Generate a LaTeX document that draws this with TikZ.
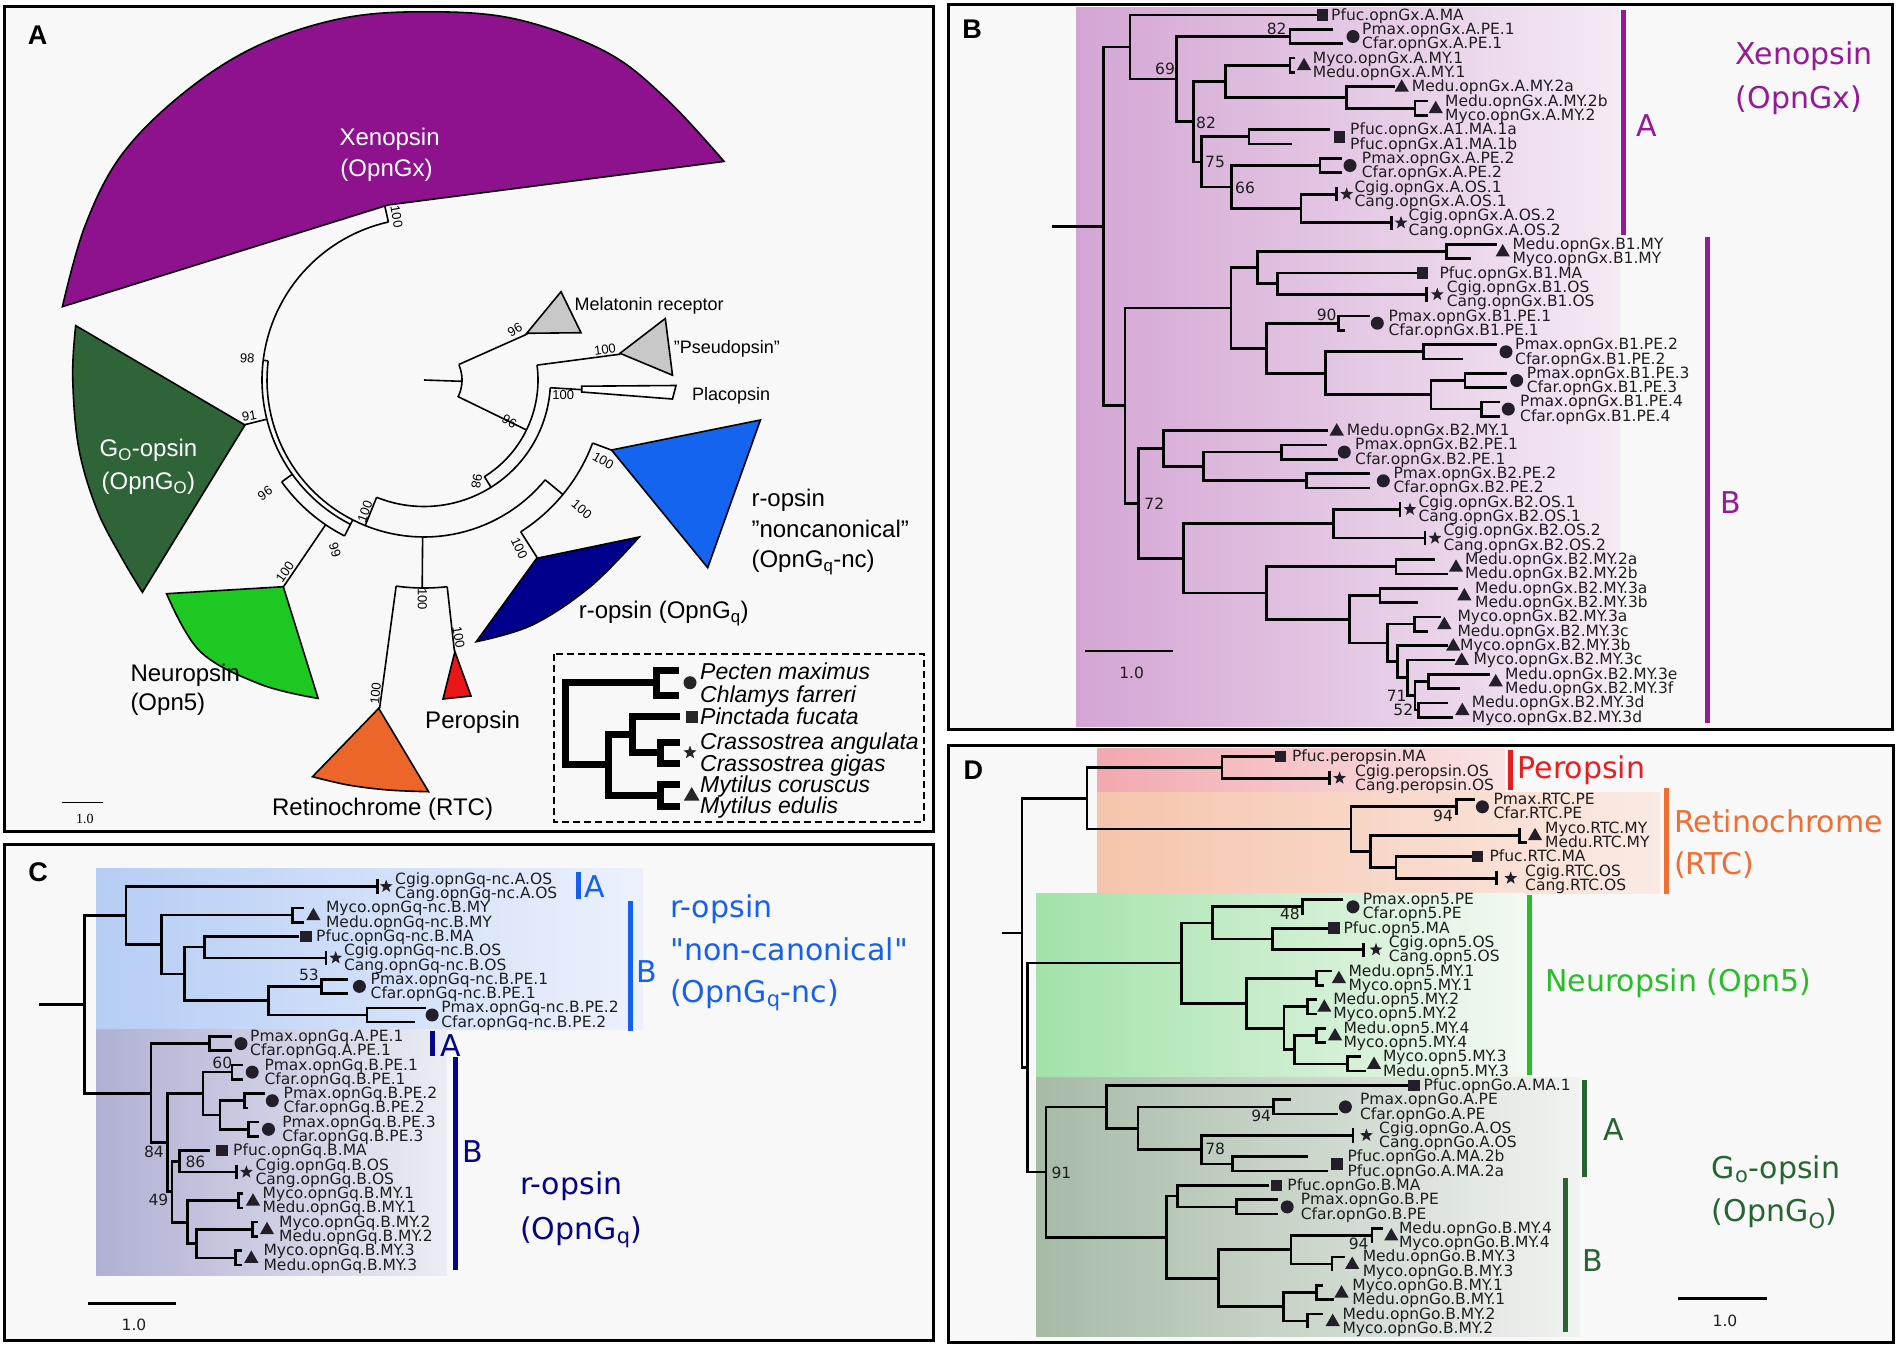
\documentclass[tikz,border=0pt]{standalone}
\usepackage{fontspec}
\setmainfont{Liberation Sans}
\newfontfamily\dvs{DejaVu Sans}
\newfontfamily\dvl[Scale=1.55]{DejaVu Sans}
\newfontfamily\lser{Liberation Serif}
\usetikzlibrary{shapes.geometric}
\definecolor{pbg}{RGB}{248,248,248}
\definecolor{mkc}{RGB}{35,30,42}
\definecolor{lbc}{RGB}{30,30,30}
\definecolor{xeno}{RGB}{142,17,142}
\definecolor{xtxt}{RGB}{150,25,150}
\definecolor{goc}{RGB}{46,100,55}
\definecolor{neuc}{RGB}{30,200,35}
\definecolor{rtcc}{RGB}{236,102,42}
\definecolor{perc}{RGB}{232,22,22}
\definecolor{navc}{RGB}{0,0,140}
\definecolor{bluc}{RGB}{20,100,240}
\definecolor{grc}{RGB}{200,200,200}
\definecolor{gtxt}{RGB}{40,190,40}
\definecolor{dgtxt}{RGB}{40,100,50}
\definecolor{otxt}{RGB}{240,110,50}
\definecolor{rtxt}{RGB}{230,30,30}
\definecolor{btxt}{RGB}{21,96,240}
\definecolor{ntxt}{RGB}{5,5,140}
\definecolor{bL}{RGB}{212,165,212}\definecolor{bR}{RGB}{244,234,244}
\definecolor{cAL}{RGB}{182,205,245}\definecolor{cAR}{RGB}{236,241,252}
\definecolor{cBL}{RGB}{176,176,212}\definecolor{cBR}{RGB}{236,236,244}
\definecolor{pL}{RGB}{242,168,175}\definecolor{pR}{RGB}{250,228,228}
\definecolor{oL}{RGB}{246,196,172}\definecolor{oR}{RGB}{250,234,228}
\definecolor{nL}{RGB}{162,226,168}\definecolor{nR}{RGB}{242,249,242}
\definecolor{gL}{RGB}{166,186,166}\definecolor{gR}{RGB}{240,243,240}
\newcounter{nn}
\newcommand\Lf[3]{\stepcounter{nn}\node[leaf] (l\arabic{nn}) at (#1,#2) {#3};}
\newcommand\Mk[3]{\stepcounter{nn}\node[#1] (m\arabic{nn}) at (#2,#3) {};}
\newcommand\Br[5]{\draw[tl] (#3,#2) -- (#1,#2) -- (#1,#4) -- (#5,#4);}
\newcommand\Vb[3]{\draw[tl] (#1,#2) -- (#1,#3);}
\newcommand\Bs[3]{\stepcounter{nn}\node[bsl] (b\arabic{nn}) at (#1,#2) {#3};}
\newcommand\PolA[3]{\draw[pl] plot[domain=#2:#3, samples=60, variable=\t] ({424+#1*cos(\t)},{380+#1*sin(\t)});}
\newcommand\PolR[3]{\draw[pl] ({424+#2*cos(#1)},{380+#2*sin(#1)}) -- ({424+#3*cos(#1)},{380+#3*sin(#1)});}
\tikzset{
 tl/.style={line width=2.7pt, draw=black},
 pl/.style={line width=1.6pt, draw=black},
 leaf/.style={anchor=west, inner sep=0pt, font=\dvl, text=lbc, text height=10pt, text depth=0pt},
 bsl/.style={inner sep=0pt, font=\dvl, text=lbc},
 bsa/.style={inner sep=0pt, font=\fontsize{13}{13}\selectfont},
 alab/.style={inner sep=0pt, font=\fontsize{24}{26}\selectfont, text height=17pt, text depth=0pt},
 slab/.style={inner sep=0pt, anchor=west, font=\fontsize{18}{20}\selectfont, text height=13pt, text depth=0pt},
 cl/.style={inner sep=0pt, anchor=west, font=\dvs\fontsize{30}{32}\selectfont, text height=22pt, text depth=0pt},
 plab/.style={inner sep=0pt, font=\bfseries\fontsize{27}{27}\selectfont},
 msq/.style={rectangle, fill=mkc, minimum size=11.5pt, inner sep=0pt},
 mci/.style={circle, fill=mkc, minimum size=13pt, inner sep=0pt},
 mtr/.style={regular polygon, regular polygon sides=3, fill=mkc, minimum size=16.5pt, inner sep=0pt},
 mst/.style={star, star points=5, star point ratio=2.4, fill=mkc, minimum size=13.5pt, inner sep=0pt},
 it/.style={line width=7pt},
 cbar/.style={line width=5pt},
 ilab/.style={inner sep=0pt, anchor=west, font=\itshape\fontsize{23}{23}\selectfont, text height=16pt, text depth=0pt}
}
\begin{document}
\begin{tikzpicture}[x=1pt, y=-1pt, line join=miter]
\useasboundingbox (0,0) rectangle (1898,1347);
\fill[white] (0,0) rectangle (1898,1347);
% frames
\draw[line width=3pt, fill=pbg] (4,6) rectangle (933,831);
\draw[line width=3pt, fill=pbg] (948,4) rectangle (1892,729);
\draw[line width=3pt, fill=pbg] (4,844) rectangle (933,1340);
\draw[line width=3pt, fill=pbg] (948,745) rectangle (1893,1342);
% shaded regions
\shade[left color=bL, right color=bR] (1076,7) rectangle (1620,726);
\shade[left color=cAL, right color=cAR] (96,868.3) rectangle (643,1029.5);
\shade[left color=cBL, right color=cBR] (96,1029.5) rectangle (447,1275);
\shade[left color=pL, right color=pR] (1097.4,748.3) rectangle (1505,792.7);
\shade[left color=oL, right color=oR] (1097.4,792.7) rectangle (1660,893.3);
\shade[left color=nL, right color=nR] (1036.1,893.3) rectangle (1525,1077.7);
\shade[left color=gL, right color=gR] (1036.1,1077.7) rectangle (1580,1336.7);
% panel letters
\node[plab] (pA) at (37.6,35.4) {A};
\node[plab] (pB) at (972,29) {B};
\node[plab] (pC) at (38,871.7) {C};
\node[plab] (pD) at (973.4,770) {D};

% ================= PANEL A =================
\PolR{2}{0}{38}
\PolA{38}{-23}{27}
\PolR{-24}{38}{113}
\PolR{26}{38}{114}
\PolA{114}{-7.5}{58}
\PolR{-7.5}{114}{198}
\PolR{58}{114}{126.5}
\PolA{126.5}{3.5}{112}
\PolR{3.5}{126.5}{158}
\PolR{112}{126.5}{157}
\PolA{157}{39.5}{187}
\PolR{39.5}{157}{180}
\PolA{180}{20.5}{57.5}
\PolR{20.5}{180}{200}
\PolR{57.5}{180}{211}
\PolR{90.5}{157}{208}
\PolA{208}{83.6}{97.7}
\PolR{97.7}{208}{331}
\PolR{83.6}{208}{273}
\PolR{187}{157}{162}
\PolA{162}{117}{257.3}
\PolR{257.3}{162}{178}
\PolR{166}{162}{185}
\PolR{144.4}{162}{175}
\PolA{175}{117}{144.4}
\PolR{124.2}{175}{250}
\PolR{117}{157}{175}
% clade shapes
\filldraw[pl, fill=xeno] (388,205) -- plot[smooth, tension=0.6] coordinates {(62.4,306.7) (84.8,226.5) (121,155.7) (181.8,94.4) (254.5,47.2) (339.3,18.9) (424,11.8) (515,18.9) (606,51.9) (666.5,99.1) (724,161.4)} -- cycle;
\filldraw[pl, fill=goc] (245,425) -- plot[smooth, tension=0.6] coordinates {(75.7,325.6) (72.7,377.5) (78.8,448.3) (97,509.7) (121.2,556.9) (142.4,592.3)} -- cycle;
\filldraw[pl, fill=neuc] (283.3,586.7) -- plot[smooth, tension=0.6] coordinates {(166.6,593.7) (200,651.3) (260.5,684.3) (318.1,698.4)} -- cycle;
\filldraw[pl, fill=rtcc] (378.7,708.3) -- plot[smooth, tension=0.6] coordinates {(312.5,776.7) (348.2,785) (388.4,790) (428.6,791.7)} -- cycle;
\filldraw[pl, fill=perc] (454.9,651.7) -- (443,699) -- (471,696) -- cycle;
\filldraw[pl, fill=navc] (536.7,558.3) -- plot[smooth, tension=0.6] coordinates {(639.2,537) (590.2,586.7) (532.2,625) (476.2,641.7)} -- cycle;
\filldraw[pl, fill=bluc] (611.5,450) -- (760.4,420) -- (707.7,567.7) -- cycle;
\filldraw[pl, fill=grc] (526.7,333.3) -- (561,291.7) -- (581,332.7) -- cycle;
\filldraw[pl, fill=grc] (620,353.3) -- (665.3,318.5) -- (672.5,375.2) -- cycle;
\filldraw[pl, fill=white] (581.7,386.2) -- (676,385.5) -- (672.5,399) -- (581.7,392) -- cycle;
% labels A
\node[alab, text=white] (xn1) at (389.6,137) {Xenopsin};
\node[alab, text=white] (xn2) at (386.5,167.5) {(OpnGx)};
\node[alab, text=white] (go1) at (148.4,448.3) {G\textsubscript{O}-opsin};
\node[alab, text=white] (go2) at (148.4,481.4) {(OpnG\textsubscript{O})};
\node[alab, anchor=west] (ne1) at (130.3,672.5) {Neuropsin};
\node[alab, anchor=west] (ne2) at (130.3,702.2) {(Opn5)};
\node[alab] (pe1) at (472.6,719.7) {Peropsin};
\node[alab] (rt1) at (382.6,806.7) {Retinochrome (RTC)};
\node[alab, anchor=west] (rn1) at (751.3,497.9) {r-opsin};
\node[alab, anchor=west] (rn2) at (751.3,528.5) {"noncanonical"};
\node[alab, anchor=west] (rn3) at (751.3,559.2) {(OpnG\textsubscript{q}-nc)};
\node[alab, anchor=west] (rq1) at (578.6,610.2) {r-opsin (OpnG\textsubscript{q})};
\node[slab] (ml) at (574.4,304.4) {Melatonin receptor};
\node[slab] (ps) at (673.7,346.9) {"Pseudopsin"};
\node[slab] (plc) at (691.9,394) {Placopsin};
% bootstrap A
\node[bsa, rotate=-80] (a1) at (396.7,216.7) {100};
\node[bsa, rotate=-5] (a2) at (247.3,358.3) {98};
\node[bsa, rotate=10] (a3) at (249.3,416) {91};
\node[bsa, rotate=35] (a4) at (265,493.3) {96};
\node[bsa, rotate=55] (a5) at (285,571.7) {100};
\node[bsa, rotate=-72] (a6) at (335,550) {99};
\node[bsa, rotate=70] (a7) at (365,511.7) {100};
\node[bsa, rotate=-90] (a8) at (422.3,599.3) {100};
\node[bsa, rotate=85] (a9) at (375.6,693.7) {100};
\node[bsa, rotate=-80] (a10) at (458.6,637) {100};
\node[bsa, rotate=-100] (a11) at (476.7,481.7) {98};
\node[bsa, rotate=-30] (a12) at (509.3,421.7) {96};
\node[bsa, rotate=30] (a13) at (515,330) {96};
\node[bsa, rotate=8] (a14) at (605,349.3) {100};
\node[bsa] (a15) at (563.3,395) {100};
\node[bsa, rotate=-30] (a16) at (603.3,460.7) {100};
\node[bsa, rotate=-40] (a17) at (581.7,509.3) {100};
\node[bsa, rotate=-65] (a18) at (519.3,548.3) {100};
% scale A
\draw[line width=1.6pt] (61.6,802.3) -- (102.7,802.3);
\node[inner sep=0pt, font=\lser\fontsize{14}{14}\selectfont] (sA) at (84.8,819) {1.0};
% inset
\draw[line width=2.2pt, dash pattern=on 7pt off 4pt] (553.7,654) rectangle (924,822);
\draw[it] (679.4,670) -- (656.6,670) -- (656.6,695) -- (679.4,695);
\draw[it] (656.6,682.7) -- (565.3,682.7) -- (565.3,764.5) -- (608.3,764.5);
\draw[it] (632,734) -- (608.3,734) -- (608.3,795) -- (660,795);
\draw[it] (680,716) -- (632,716) -- (632,752.5) -- (660,752.5);
\draw[it] (680,742) -- (660,742) -- (660,763) -- (680,763);
\draw[it] (680,784.5) -- (660,784.5) -- (660,806) -- (680,806);
\node[circle, fill=black!85, minimum size=13pt, inner sep=0pt] (im1) at (690,682.7) {};
\node[rectangle, fill=black!85, minimum size=12pt, inner sep=0pt] (im2) at (691.8,716.7) {};
\node[star, star points=5, star point ratio=2.4, fill=black!85, minimum size=14pt, inner sep=0pt] (im3) at (690,752.5) {};
\node[regular polygon, regular polygon sides=3, fill=black!85, minimum size=18pt, inner sep=0pt] (im4) at (691.7,796) {};
\node[ilab] (s1) at (700,671.7) {Pecten maximus};
\node[ilab] (s2) at (700,694) {Chlamys farreri};
\node[ilab] (s3) at (700,716.7) {Pinctada fucata};
\node[ilab] (s4) at (700,741.9) {Crassostrea angulata};
\node[ilab] (s5) at (700,763.2) {Crassostrea gigas};
\node[ilab] (s6) at (700,784.5) {Mytilus coruscus};
\node[ilab] (s7) at (700,805.8) {Mytilus edulis};

% ================= PANEL B =================
\Br{1290}{29.33}{1333}{43.66}{1343}
\Mk{mci}{1353}{36.5}
\Br{1290}{58}{1295}{72.3}{1295}
\Mk{mtr}{1304}{66}
\Br{1415}{101}{1428.3}{115.3}{1428.3}
\Mk{mtr}{1435.7}{109}
\Br{1346.7}{86.65}{1395}{108.2}{1415}
\Mk{mtr}{1401.7}{87.5}
\Br{1225.7}{65.2}{1290}{97.4}{1346.7}
\Br{1249}{129.6}{1330}{144}{1291.7}
\Mk{msq}{1339.3}{136.8}
\Br{1320}{158.3}{1341.7}{172.6}{1341.7}
\Mk{mci}{1350}{165.5}
\Br{1301}{194.2}{1336.7}{222.8}{1391.7}
\Vb{1336.7}{187}{201.3}
\Vb{1391.7}{215.6}{230}
\Mk{mst}{1346.7}{194.2}
\Mk{mst}{1401}{222.8}
\Br{1231.7}{165.5}{1320}{208.5}{1301}
\Br{1201.7}{136.8}{1249}{187}{1231.7}
\Br{1193.3}{81.3}{1225.7}{161.9}{1201.7}
\Br{1176.7}{36.5}{1290}{121.6}{1193.3}
\Br{1130}{15}{1316.7}{79}{1176.7}
\Mk{msq}{1322.3}{15}
\Br{1446.7}{244.3}{1496.7}{258.6}{1471}
\Mk{mtr}{1502.7}{252.3}
\Br{1277.3}{273}{1416.7}{294.5}{1426.7}
\Vb{1426.7}{287.3}{301.6}
\Mk{msq}{1422.5}{273}
\Mk{mst}{1437.3}{294.5}
\Br{1257.7}{251.5}{1446.7}{283.7}{1277.3}
\Br{1338.3}{316}{1370}{330.3}{1345}
\Mk{mci}{1377.3}{323.2}
\Br{1423.3}{344.6}{1496.7}{359}{1463.3}
\Mk{mci}{1506}{351.8}
\Br{1465}{373.3}{1506.7}{387.6}{1506.7}
\Mk{mci}{1516.7}{380.5}
\Br{1481.7}{401.9}{1500}{416.3}{1500}
\Mk{mci}{1508.3}{409.1}
\Br{1431}{380.5}{1465}{409.1}{1481.7}
\Br{1325.7}{351.8}{1423.3}{394.8}{1431}
\Br{1266.7}{323.2}{1338.3}{373.3}{1325.7}
\Br{1231}{267.6}{1257.7}{348.2}{1266.7}
\Br{1281.7}{444.9}{1326.7}{459.3}{1338.3}
\Mk{mci}{1344.3}{452.1}
\Br{1306.7}{473.6}{1370}{487.9}{1370}
\Mk{mci}{1383.3}{480.8}
\Br{1203.3}{452.1}{1281.7}{480.8}{1306.7}
\Br{1163.3}{430.6}{1328.3}{466.4}{1203.3}
\Mk{mtr}{1336.7}{431.4}
\Br{1333.3}{509.4}{1400}{538.1}{1425}
\Vb{1400}{502.3}{516.6}
\Vb{1425}{530.9}{545.3}
\Mk{mst}{1410}{509.4}
\Mk{mst}{1435}{538.1}
\Br{1396}{559.6}{1435}{573.9}{1447.7}
\Mk{mtr}{1456}{567.6}
\Br{1380}{588.3}{1458.3}{602.6}{1418.3}
\Mk{mtr}{1464.3}{596.2}
\Br{1414.3}{616.9}{1441}{631.3}{1427.7}
\Mk{mtr}{1444.3}{624.9}
\Br{1428.3}{674.3}{1490}{688.6}{1460}
\Mk{mtr}{1495.7}{682.2}
\Br{1418.3}{702.9}{1447.7}{717.3}{1453.3}
\Mk{mtr}{1462.3}{710.9}
\Br{1415}{681.4}{1428.3}{710.1}{1418.3}
\Br{1407.7}{659.9}{1455}{695.8}{1415}
\Mk{mtr}{1461.7}{660.7}
\Br{1397.7}{645.6}{1448.3}{677.8}{1407.7}
\Mk{mtr}{1453.3}{646.4}
\Br{1387.7}{624.1}{1414.3}{661.7}{1397.7}
\Br{1349.3}{595.4}{1380}{642.9}{1387.7}
\Br{1266.7}{566.8}{1396}{619.2}{1349.3}
\Br{1183.3}{523.8}{1333.3}{593}{1266.7}
\Br{1138.3}{448.5}{1163.3}{558.4}{1183.3}
\Br{1125}{307.9}{1231}{503.5}{1138.3}
\Br{1103.3}{47}{1130}{405.7}{1125}
\draw[tl] (1052,226.4) -- (1103.3,226.4);
\Lf{1331}{15}{Pfuc.opnGx.A.MA}
\Lf{1362}{29.33}{Pmax.opnGx.A.PE.1}
\Lf{1362}{43.66}{Cfar.opnGx.A.PE.1}
\Lf{1312.7}{58}{Myco.opnGx.A.MY.1}
\Lf{1312.7}{72.3}{Medu.opnGx.A.MY.1}
\Lf{1411.7}{86.65}{Medu.opnGx.A.MY.2a}
\Lf{1445}{101}{Medu.opnGx.A.MY.2b}
\Lf{1445}{115.3}{Myco.opnGx.A.MY.2}
\Lf{1350}{129.6}{Pfuc.opnGx.A1.MA.1a}
\Lf{1350}{144}{Pfuc.opnGx.A1.MA.1b}
\Lf{1361.7}{158.3}{Pmax.opnGx.A.PE.2}
\Lf{1361.7}{172.6}{Cfar.opnGx.A.PE.2}
\Lf{1354.3}{187}{Cgig.opnGx.A.OS.1}
\Lf{1354.3}{201.3}{Cang.opnGx.A.OS.1}
\Lf{1408.3}{215.6}{Cgig.opnGx.A.OS.2}
\Lf{1408.3}{230}{Cang.opnGx.A.OS.2}
\Lf{1512.3}{244.3}{Medu.opnGx.B1.MY}
\Lf{1512.3}{258.6}{Myco.opnGx.B1.MY}
\Lf{1439.3}{273}{Pfuc.opnGx.B1.MA}
\Lf{1446.7}{287.3}{Cgig.opnGx.B1.OS}
\Lf{1446.7}{301.6}{Cang.opnGx.B1.OS}
\Lf{1388.3}{316}{Pmax.opnGx.B1.PE.1}
\Lf{1388.3}{330.3}{Cfar.opnGx.B1.PE.1}
\Lf{1515}{344.6}{Pmax.opnGx.B1.PE.2}
\Lf{1515}{359}{Cfar.opnGx.B1.PE.2}
\Lf{1526.7}{373.3}{Pmax.opnGx.B1.PE.3}
\Lf{1526.7}{387.6}{Cfar.opnGx.B1.PE.3}
\Lf{1520}{401.9}{Pmax.opnGx.B1.PE.4}
\Lf{1520}{416.3}{Cfar.opnGx.B1.PE.4}
\Lf{1346.7}{430.6}{Medu.opnGx.B2.MY.1}
\Lf{1355}{444.9}{Pmax.opnGx.B2.PE.1}
\Lf{1355}{459.3}{Cfar.opnGx.B2.PE.1}
\Lf{1393.3}{473.6}{Pmax.opnGx.B2.PE.2}
\Lf{1393.3}{487.9}{Cfar.opnGx.B2.PE.2}
\Lf{1418.3}{502.3}{Cgig.opnGx.B2.OS.1}
\Lf{1418.3}{516.6}{Cang.opnGx.B2.OS.1}
\Lf{1443.3}{530.9}{Cgig.opnGx.B2.OS.2}
\Lf{1443.3}{545.3}{Cang.opnGx.B2.OS.2}
\Lf{1465}{559.6}{Medu.opnGx.B2.MY.2a}
\Lf{1465}{573.9}{Medu.opnGx.B2.MY.2b}
\Lf{1475}{588.3}{Medu.opnGx.B2.MY.3a}
\Lf{1475}{602.6}{Medu.opnGx.B2.MY.3b}
\Lf{1457.3}{616.9}{Myco.opnGx.B2.MY.3a}
\Lf{1457.3}{631.3}{Medu.opnGx.B2.MY.3c}
\Lf{1460}{645.6}{Myco.opnGx.B2.MY.3b}
\Lf{1473.3}{659.9}{Myco.opnGx.B2.MY.3c}
\Lf{1505}{674.3}{Medu.opnGx.B2.MY.3e}
\Lf{1505}{688.6}{Medu.opnGx.B2.MY.3f}
\Lf{1471.7}{702.9}{Medu.opnGx.B2.MY.3d}
\Lf{1471.7}{717.3}{Myco.opnGx.B2.MY.3d}
\Bs{1276.7}{29.3}{82}
\Bs{1165}{69}{69}
\Bs{1206}{123.3}{82}
\Bs{1215}{161.7}{75}
\Bs{1245}{188.3}{66}
\Bs{1326.7}{315}{90}
\Bs{1154.3}{503.3}{72}
\Bs{1396.7}{696}{71}
\Bs{1403.3}{710}{52}
\draw[tl] (1085,651) -- (1173.3,651);
\Bs{1131.7}{673.3}{1.0}
\draw[cbar, xtxt] (1623.3,10.2) -- (1623.3,235);
\draw[cbar, xtxt] (1707.7,237.4) -- (1707.7,722.5);
\node[cl, text=xtxt] (bA) at (1636,125.7) {A};
\node[cl, text=xtxt] (bB) at (1720,502.8) {B};
\node[cl, text=xtxt, anchor=center] (bX1) at (1804,53.5) {Xenopsin};
\node[cl, text=xtxt, anchor=center] (bX2) at (1799,97.8) {(OpnGx)};

% ================= PANEL C =================
\Br{125.9}{886.4}{377.2}{944.5}{161.6}
\Vb{377.2}{879.3}{893.6}
\Mk{mst}{386.2}{886.4}
\Br{292.4}{907.9}{303.6}{922.2}{303.6}
\Mk{mtr}{313.4}{916}
\Br{204.5}{936.4}{299.1}{957.9}{325.9}
\Mk{msq}{305.8}{936.4}
\Vb{325.9}{950.7}{965}
\Mk{mst}{335.7}{957.9}
\Br{321.4}{979.3}{348.2}{993.6}{348.2}
\Mk{mci}{359.4}{986.4}
\Br{367}{1007.9}{426.3}{1022.1}{415.2}
\Mk{mci}{432.1}{1015}
\Br{268.8}{986.4}{321.4}{1015}{367}
\Br{184.4}{947.1}{204.5}{1000.7}{268.8}
\Br{161.6}{915}{292.4}{973.9}{184.4}
\Br{209.8}{1036.4}{232.1}{1050.7}{232.1}
\Mk{mci}{241}{1043.6}
\Br{232.1}{1065}{243.3}{1079.3}{243.3}
\Mk{mci}{252.2}{1072.1}
\Br{244.6}{1093.6}{265}{1107.9}{248}
\Mk{mci}{272.3}{1100.7}
\Br{248.7}{1122.1}{258.9}{1136.4}{258.9}
\Mk{mci}{268.5}{1129.3}
\Br{220.1}{1100.7}{244.6}{1129.3}{248.7}
\Br{203.1}{1072.1}{232.1}{1115}{220.1}
\Br{179.5}{1150.7}{209.8}{1172.1}{236.6}
\Mk{msq}{221.9}{1150.7}
\Vb{236.6}{1165}{1179.3}
\Mk{mst}{246.4}{1172.1}
\Br{238.8}{1193.6}{243}{1207.9}{243}
\Mk{mtr}{253}{1201.5}
\Br{252.2}{1222.1}{258}{1236.4}{258}
\Mk{mtr}{267}{1230.1}
\Br{235.7}{1250.7}{242}{1265}{242}
\Mk{mtr}{251.3}{1258.7}
\Br{196.4}{1229.3}{252.2}{1257.9}{235.7}
\Br{187.5}{1200.7}{238.8}{1243.6}{196.4}
\Br{171.9}{1161.4}{179.5}{1222.2}{187.5}
\Br{167.4}{1093.6}{203.1}{1191.8}{171.9}
\Br{150.9}{1043.6}{209.8}{1142.7}{167.4}
\Br{84.8}{915.4}{125.9}{1093.2}{150.9}
\draw[tl] (39.3,1004.3) -- (84.8,1004.3);
\Lf{395}{879.3}{Cgig.opnGq-nc.A.OS}
\Lf{395}{893.6}{Cang.opnGq-nc.A.OS}
\Lf{325.9}{907.9}{Myco.opnGq-nc.B.MY}
\Lf{325.9}{922.2}{Medu.opnGq-nc.B.MY}
\Lf{316}{936.4}{Pfuc.opnGq-nc.B.MA}
\Lf{343.8}{950.7}{Cgig.opnGq-nc.B.OS}
\Lf{343.8}{965}{Cang.opnGq-nc.B.OS}
\Lf{370.5}{979.3}{Pmax.opnGq-nc.B.PE.1}
\Lf{370.5}{993.6}{Cfar.opnGq-nc.B.PE.1}
\Lf{441.1}{1007.9}{Pmax.opnGq-nc.B.PE.2}
\Lf{441.1}{1022.1}{Cfar.opnGq-nc.B.PE.2}
\Lf{250}{1036.4}{Pmax.opnGq.A.PE.1}
\Lf{250}{1050.7}{Cfar.opnGq.A.PE.1}
\Lf{264.3}{1065}{Pmax.opnGq.B.PE.1}
\Lf{264.3}{1079.3}{Cfar.opnGq.B.PE.1}
\Lf{283.5}{1093.6}{Pmax.opnGq.B.PE.2}
\Lf{283.5}{1107.9}{Cfar.opnGq.B.PE.2}
\Lf{282.1}{1122.1}{Pmax.opnGq.B.PE.3}
\Lf{282.1}{1136.4}{Cfar.opnGq.B.PE.3}
\Lf{233}{1150.7}{Pfuc.opnGq.B.MA}
\Lf{255.4}{1165}{Cgig.opnGq.B.OS}
\Lf{255.4}{1179.3}{Cang.opnGq.B.OS}
\Lf{262.5}{1193.6}{Myco.opnGq.B.MY.1}
\Lf{262.5}{1207.9}{Medu.opnGq.B.MY.1}
\Lf{279}{1222.1}{Myco.opnGq.B.MY.2}
\Lf{279}{1236.4}{Medu.opnGq.B.MY.2}
\Lf{263.4}{1250.7}{Myco.opnGq.B.MY.3}
\Lf{263.4}{1265}{Medu.opnGq.B.MY.3}
\Bs{308.9}{975}{53}
\Bs{222.3}{1062.7}{60}
\Bs{154}{1151.7}{84}
\Bs{195.5}{1161.7}{86}
\Bs{158.5}{1200}{49}
\draw[tl] (88,1303.3) -- (176.3,1303.3);
\Bs{134}{1325}{1.0}
\draw[cbar, btxt] (578.1,871.7) -- (578.1,899);
\draw[cbar, btxt] (630.8,901) -- (630.8,1031);
\draw[cbar, ntxt] (432.1,1030.7) -- (432.1,1056);
\draw[cbar, ntxt] (455.4,1057.3) -- (455.4,1270);
\node[cl, text=btxt] (cA) at (584,886.7) {A};
\node[cl, text=btxt] (cB) at (636,971.7) {B};
\node[cl, text=ntxt] (cA2) at (440,1045) {A};
\node[cl, text=ntxt] (cB2) at (462,1151.7) {B};
\node[cl, text=btxt] (cr1) at (670,906.5) {r-opsin};
\node[cl, text=btxt] (cr2) at (670,949) {"non-canonical"};
\node[cl, text=btxt] (cr3) at (670,991.6) {(OpnG\textsubscript{q}-nc)};
\node[cl, text=ntxt] (cq1) at (520,1183.3) {r-opsin};
\node[cl, text=ntxt] (cq2) at (520,1228.3) {(OpnG\textsubscript{q})};

% ================= PANEL D =================
\Br{1222.1}{756.7}{1274.6}{778.2}{1329.3}
\Mk{msq}{1280.3}{756.7}
\Vb{1329.3}{771}{785.3}
\Mk{mst}{1339.6}{778.2}
\Br{1456.3}{799.6}{1475}{813.9}{1458}
\Mk{mci}{1482.4}{806.8}
\Br{1519.3}{828.2}{1519.3}{842.4}{1526.7}
\Mk{mtr}{1535}{836.1}
\Br{1395.9}{856.7}{1471.6}{878.2}{1496.5}
\Mk{msq}{1477.5}{856.7}
\Vb{1496.5}{871}{885.3}
\Mk{mst}{1510.7}{878.2}
\Br{1370.2}{835.3}{1519.3}{867.4}{1395.9}
\Br{1351.1}{806.8}{1456.3}{851.4}{1370.2}
\Br{1087}{767.5}{1222.1}{829.1}{1351.1}
\Br{1302.5}{899.6}{1343.4}{913.9}{1304}
\Mk{mci}{1353}{906.8}
\Br{1272.6}{928.2}{1328.1}{949.7}{1363.7}
\Mk{msq}{1334}{928.2}
\Vb{1363.7}{942.5}{956.8}
\Mk{mst}{1376}{949.7}
\Br{1212.2}{906.8}{1302.5}{939}{1272.6}
\Br{1316.7}{971.1}{1332}{985.3}{1324.3}
\Mk{mtr}{1338.9}{979}
\Br{1307.8}{999.6}{1316.7}{1013.9}{1316.7}
\Mk{mtr}{1324.3}{1007.6}
\Br{1316.7}{1028.2}{1326.2}{1042.5}{1326.2}
\Mk{mtr}{1335}{1036.2}
\Br{1347.3}{1056.8}{1360.7}{1071.1}{1366.4}
\Mk{mtr}{1374}{1064.8}
\Br{1294.8}{1035.4}{1316.7}{1064}{1347.3}
\Br{1284.1}{1006.8}{1307.8}{1049.7}{1294.8}
\Br{1246.6}{978.2}{1316.7}{1028.3}{1284.1}
\Br{1181.6}{922.9}{1212.2}{1003.3}{1246.6}
\Br{1273.8}{1099.7}{1291}{1114}{1337.7}
\Mk{mci}{1345.4}{1106.9}
\Vb{1353}{1128.3}{1142.5}
\Mk{mst}{1366.4}{1135.4}
\Br{1232.5}{1156.8}{1307.8}{1171.1}{1328.1}
\Mk{msq}{1337}{1164}
\Br{1201.8}{1135.4}{1353}{1164}{1232.5}
\Br{1137.9}{1106.9}{1273.8}{1149.7}{1201.8}
\Br{1106.2}{1085.4}{1408.5}{1128.3}{1137.9}
\Mk{msq}{1414.2}{1085.4}
\Br{1236.3}{1199.7}{1278.4}{1214}{1278.4}
\Mk{mci}{1287.2}{1206.9}
\Br{1177.7}{1185.4}{1268.8}{1206.9}{1236.3}
\Mk{msq}{1276.5}{1185.4}
\Br{1372.1}{1228.3}{1382.9}{1242.6}{1372.1}
\Mk{mtr}{1391.3}{1236.3}
\Br{1332}{1256.9}{1345.4}{1271.2}{1332}
\Mk{mtr}{1352.2}{1264.8}
\Br{1291}{1235.5}{1372.1}{1264}{1332}
\Br{1316.7}{1285.4}{1322.5}{1299.7}{1333.8}
\Mk{mtr}{1341.5}{1293.4}
\Br{1307.8}{1314}{1323.2}{1328.3}{1307.8}
\Mk{mtr}{1332.7}{1321.9}
\Br{1283.4}{1292.6}{1316.7}{1321.1}{1307.8}
\Br{1218.3}{1249.7}{1291}{1306.8}{1283.4}
\Br{1166.3}{1196.1}{1177.7}{1278.3}{1218.3}
\Br{1046.1}{1106.9}{1106.2}{1237.2}{1166.3}
\Br{1027.7}{963.1}{1181.6}{1172}{1046.1}
\Br{1022}{798.3}{1087}{1067.6}{1027.7}
\draw[tl] (1001.7,932.9) -- (1022,932.9);
\Lf{1291.8}{756.7}{Pfuc.peropsin.MA}
\Lf{1355}{771}{Cgig.peropsin.OS}
\Lf{1355}{785.3}{Cang.peropsin.OS}
\Lf{1493.3}{799.6}{Pmax.RTC.PE}
\Lf{1493.3}{813.9}{Cfar.RTC.PE}
\Lf{1545}{828.2}{Myco.RTC.MY}
\Lf{1545}{842.4}{Medu.RTC.MY}
\Lf{1489.3}{856.7}{Pfuc.RTC.MA}
\Lf{1525}{871}{Cgig.RTC.OS}
\Lf{1525}{885.3}{Cang.RTC.OS}
\Lf{1362.6}{899.6}{Pmax.opn5.PE}
\Lf{1362.6}{913.9}{Cfar.opn5.PE}
\Lf{1343.4}{928.2}{Pfuc.opn5.MA}
\Lf{1388.6}{942.5}{Cgig.opn5.OS}
\Lf{1388.6}{956.8}{Cang.opn5.OS}
\Lf{1348.4}{971.1}{Medu.opn5.MY.1}
\Lf{1348.4}{985.3}{Myco.opn5.MY.1}
\Lf{1333.1}{999.6}{Medu.opn5.MY.2}
\Lf{1333.1}{1013.9}{Myco.opn5.MY.2}
\Lf{1343.4}{1028.2}{Medu.opn5.MY.4}
\Lf{1343.4}{1042.5}{Myco.opn5.MY.4}
\Lf{1382.9}{1056.8}{Myco.opn5.MY.3}
\Lf{1382.9}{1071.1}{Medu.opn5.MY.3}
\Lf{1423.3}{1085.4}{Pfuc.opnGo.A.MA.1}
\Lf{1359.9}{1099.7}{Pmax.opnGo.A.PE}
\Lf{1359.9}{1114}{Cfar.opnGo.A.PE}
\Lf{1379}{1128.3}{Cgig.opnGo.A.OS}
\Lf{1379}{1142.5}{Cang.opnGo.A.OS}
\Lf{1347.3}{1156.8}{Pfuc.opnGo.A.MA.2b}
\Lf{1347.3}{1171.1}{Pfuc.opnGo.A.MA.2a}
\Lf{1287.2}{1185.4}{Pfuc.opnGo.B.MA}
\Lf{1300.6}{1199.7}{Pmax.opnGo.B.PE}
\Lf{1300.6}{1214}{Cfar.opnGo.B.PE}
\Lf{1398.9}{1228.3}{Medu.opnGo.B.MY.4}
\Lf{1398.9}{1242.6}{Myco.opnGo.B.MY.4}
\Lf{1362.6}{1256.9}{Medu.opnGo.B.MY.3}
\Lf{1362.6}{1271.2}{Myco.opnGo.B.MY.3}
\Lf{1352.2}{1285.4}{Myco.opnGo.B.MY.1}
\Lf{1352.2}{1299.7}{Medu.opnGo.B.MY.1}
\Lf{1342.3}{1314}{Medu.opnGo.B.MY.2}
\Lf{1342.3}{1328.3}{Myco.opnGo.B.MY.2}
\Bs{1443}{816}{94}
\Bs{1289.9}{914}{48}
\Bs{1061.4}{1172.7}{91}
\Bs{1261.2}{1116}{94}
\Bs{1215.2}{1149.3}{78}
\Bs{1358.7}{1244}{94}
\draw[tl] (1678.3,1298.6) -- (1766.7,1298.6);
\Bs{1725}{1320.7}{1.0}
\draw[cbar, rtxt] (1510,749.7) -- (1510,790.3);
\draw[cbar, otxt] (1666.7,788.4) -- (1666.7,894.1);
\draw[cbar, gtxt] (1529.3,894.9) -- (1529.3,1074.9);
\draw[cbar, dgtxt] (1584,1079.9) -- (1584,1176.7);
\draw[cbar, dgtxt] (1565,1178.2) -- (1565,1332.3);
\node[cl, text=rtxt] (dP) at (1517.3,767.9) {Peropsin};
\node[cl, text=otxt] (dR1) at (1674,821.3) {Retinochrome};
\node[cl, text=otxt] (dR2) at (1674,863.1) {(RTC)};
\node[cl, text=gtxt] (dN) at (1545,980.8) {Neuropsin (Opn5)};
\node[cl, text=dgtxt] (dA) at (1603,1129.1) {A};
\node[cl, text=dgtxt] (dB) at (1582,1260.7) {B};
\node[cl, text=dgtxt] (dG1) at (1711.7,1167.8) {G\textsubscript{o}-opsin};
\node[cl, text=dgtxt] (dG2) at (1711.7,1210.4) {(OpnG\textsubscript{O})};
\end{tikzpicture}
\end{document}
